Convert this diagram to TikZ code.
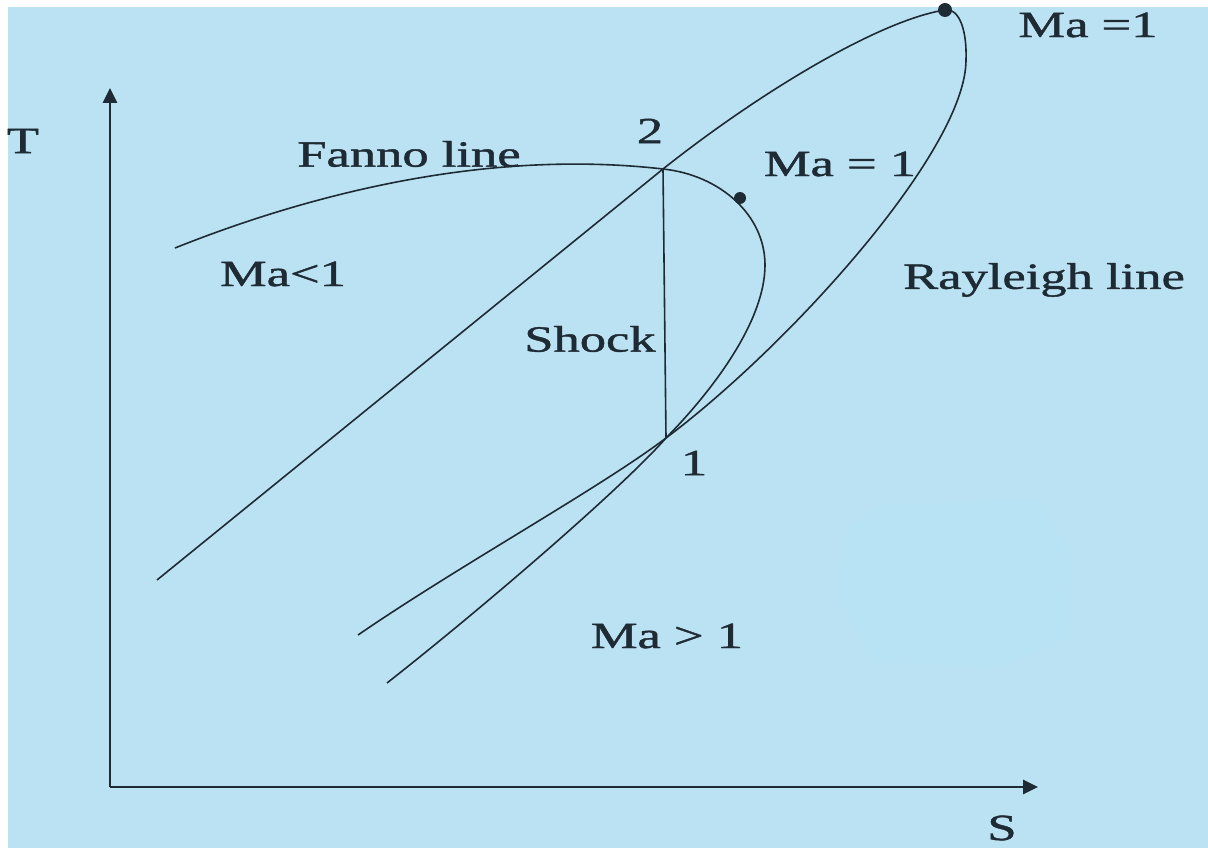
\documentclass[tikz,border=0pt]{standalone}
\usepackage{fontspec}
\setmainfont[AutoFakeBold=1.0]{Liberation Serif}
\usetikzlibrary{arrows.meta}
\definecolor{bg}{RGB}{187,226,243}
\definecolor{ink}{RGB}{30,42,52}
\definecolor{blob}{RGB}{184,227,245}
\newcommand{\sx}[1]{\scalebox{1.42}[1]{#1}}
\tikzset{
  curve/.style={draw=ink, line width=1.6pt},
  axis/.style={draw=ink, line width=2.6pt, -{Triangle[length=15pt,width=14pt]}},
  lab/.style={text=ink, inner sep=0pt, font=\fontsize{37}{42}\selectfont\bfseries},
  dot/.style={fill=ink, circle, inner sep=0pt, minimum size=12pt},
}
\begin{document}
\begin{tikzpicture}[x=1pt,y=-1pt]
\fill[white] (0,0) rectangle (1208,848);
\fill[bg] (8,7) rectangle (1208,848);
\useasboundingbox (0,0) rectangle (1208,848);
% faint blob
\fill[blob] (880,505) -- (1040,500) -- (1072,560) -- (1065,640) -- (1000,667) -- (875,662) -- (840,600) -- (845,530) -- cycle;
% axes
\coordinate (O) at (110,787);
\coordinate (Ttip) at (110,88);
\coordinate (Stip) at (1038,787);
\draw[axis] (O) -- (Ttip);
\draw[axis] (O) -- (Stip);
% key points
\coordinate (p2) at (663,169);
\coordinate (p1) at (666,438);
\coordinate (r0) at (157,580);
\coordinate (rtop) at (945,10);
\coordinate (rside) at (966,60);
\coordinate (r3) at (358,635);
\coordinate (f0) at (175,248);
\coordinate (fside) at (765,265);
\coordinate (f3) at (387,683);
% Rayleigh line
\draw[curve] (r0) -- (p2)
  .. controls (760,92) and (880,20) .. (rtop)
  .. controls (960,8) and (967,32) .. (rside)
  .. controls (966,150) and (790,345) .. (p1)
  .. controls (600,488) and (460,565) .. (r3);
% Fanno line
\draw[curve] (f0)
  .. controls (300,198) and (480,148) .. (p2)
  .. controls (720,175) and (765,215) .. (fside)
  .. controls (765,320) and (715,388) .. (p1)
  .. controls (620,490) and (480,610) .. (f3);
% shock
\draw[curve] (p2) -- (p1);
% sonic points
\node[dot, minimum size=14pt] (m1) at (rtop) {};
\node[dot] (m2) at (740,198) {};
% labels
\node[lab] (lT) at (23,141) {\sx{T}};
\node[lab] (lS) at (1002,828) {\sx{S}};
\node[lab] (lfan) at (409,154) {\sx{Fanno line}};
\node[lab] (l2) at (650,131) {\sx{2}};
\node[lab] (lma1) at (840,164) {\sx{Ma = 1}};
\node[lab] (lma0) at (1088,25) {\sx{Ma =1}};
\node[lab] (llt) at (283,274) {\sx{Ma<1}};
\node[lab] (lray) at (1044,280) {\sx{Rayleigh line}};
\node[lab] (lsh) at (590,339) {\sx{Shock}};
\node[lab] (l1) at (694,463) {\sx{1}};
\node[lab] (lgt) at (667,636) {\sx{Ma > 1}};
\end{tikzpicture}
\end{document}
